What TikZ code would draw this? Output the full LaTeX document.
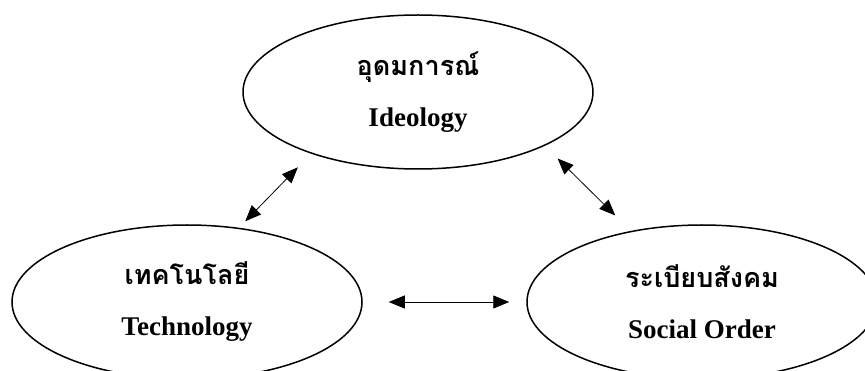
\documentclass[tikz,border=0pt]{standalone}
\usepackage{fontspec}
\setmainfont{Liberation Serif}
\newfontfamily\thaifont[Script=Thai]{Loma}
\usetikzlibrary{arrows.meta,shapes.geometric}
\tikzset{
	>={Triangle[length=16pt,width=13pt]},
	topic/.style={draw,ellipse,line width=1.5pt,minimum width=350pt,minimum height=154pt,inner sep=0pt,align=center,font=\fontsize{27}{51}\selectfont\bfseries},
	link/.style={<->,line width=0.8pt}
}
\begin{document}
\begin{tikzpicture}[x=1pt,y=-1pt]
			\useasboundingbox (0,0) rectangle (865,371);
			\node[topic] (ideo) at (418,92) {{\thaifont อุดมการณ์}\\Ideology};
			\node[topic] (tech) at (187,302) {{\thaifont เทคโนโลยี}\\Technology};
			\node[topic] (social) at (702,302) {{\thaifont ระเบียบสังคม}\\Social Order};
			\draw[link,shorten <=9pt,shorten >=19pt] (tech.55) -- (ideo.210);
			\draw[link,shorten <=18pt,shorten >=22pt] (ideo.337) -- (social.135);
			\draw[link,shorten <=26pt,shorten >=17pt] (tech.east) -- (social.west);
		\end{tikzpicture}
\end{document}
